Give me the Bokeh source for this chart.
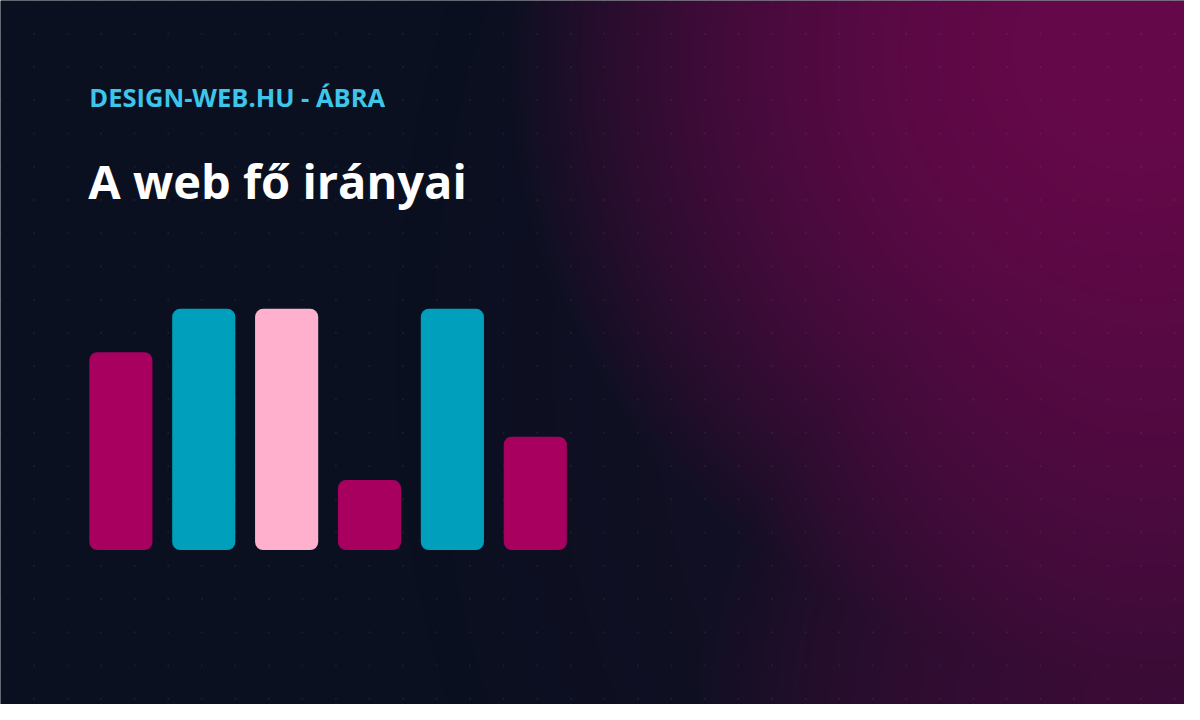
import numpy as np
from bokeh.plotting import figure
from bokeh.models import ColumnDataSource, Range1d, Label
from bokeh.embed import file_html
from bokeh.resources import INLINE

# data
bar_values = [82, 100, 100, 29, 100, 47]
bar_colors = ["#A8005F", "#009FBB", "#FFB0CD", "#A8005F", "#009FBB", "#A8005F"]
kicker_text = "DESIGN-WEB.HU - ÁBRA"
title_text = "A web fő irányai"

# layout in reference pixel coordinates (1200 x 720 design squeezed into the figure)
W, H = 1184, 704
REF_W, REF_H = 1200, 720
BAR_X0 = 122       # centre of first bar
PITCH = 84         # distance between bar centres
BAR_W = 64 / PITCH
BASE_Y = 562       # bar baseline
PX_PER_UNIT = 2.467

NAVY = np.array([10, 16, 32])
GLOW = np.array([102, 8, 74])

p = figure(
    width=W, height=H,
    x_range=Range1d(-BAR_X0 / PITCH, (REF_W - BAR_X0) / PITCH),
    y_range=Range1d(-(REF_H - BASE_Y) / PX_PER_UNIT, BASE_Y / PX_PER_UNIT),
    x_axis_type=None, y_axis_type=None,
    output_backend="svg", toolbar_location=None, tools="",
    min_border=0, outline_line_color=None,
    background_fill_color="#0A1020", border_fill_color="#0A1020",
)
p.grid.visible = False
p.extra_x_ranges = {"px": Range1d(0, REF_W)}
p.extra_y_ranges = {"py": Range1d(0, REF_H)}

# background: strong glow top right, weaker one bottom right, faint wide haze
xs = np.arange(0, REF_W, 2) + 1
ys = np.arange(0, REF_H, 2) + 1
X, Y = np.meshgrid(xs, ys)
d1 = np.sqrt((X - 1150) ** 2 + (Y - 50) ** 2)
a1 = np.clip(1 - (d1 / 640) ** 2, 0, 1)
d2 = np.sqrt((X - 1180) ** 2 + (Y - 760) ** 2)
a2 = 0.45 * np.clip(1 - (d2 / 480) ** 2, 0, 1)
d3 = np.sqrt((X - 1200) ** 2 + ((Y - 360) * 0.8) ** 2)
a3 = 0.22 * np.clip(1 - d3 / 800, 0, 1)
a = 1 - (1 - a1) * (1 - a2) * (1 - a3)
rgb = NAVY + a[..., None] * (GLOW - NAVY)
img = np.zeros(a.shape, dtype=np.uint32)
view = img.view(dtype=np.uint8).reshape(a.shape + (4,))
view[..., :3] = rgb.astype(np.uint8)
view[..., 3] = 255
img = np.ascontiguousarray(np.flipud(img))
p.image_rgba(image=[img], x=0, y=0, dw=REF_W, dh=REF_H, x_range_name="px", y_range_name="py")

# faint dot grid
gx, gy = np.meshgrid(np.arange(0, REF_W, 34), np.arange(0, REF_H, 34))
p.scatter(gx.ravel(), REF_H - gy.ravel(), size=2, marker="circle", color="white",
          alpha=0.07, line_color=None, x_range_name="px", y_range_name="py")

source = ColumnDataSource(dict(
    x=list(range(len(bar_values))),
    top=bar_values,
    color=bar_colors,
))
p.vbar(x="x", top="top", bottom=0, width=BAR_W, fill_color="color",
       line_color=None, border_radius=8, source=source)

p.add_layout(Label(x=90, y=REF_H - 98.5, text=kicker_text, x_range_name="px", y_range_name="py",
                   text_font="Open Sans", text_font_style="bold", text_font_size="25.5px",
                   text_color="#3EC6EA", text_baseline="alphabetic"))
p.add_layout(Label(x=89, y=REF_H - 185, text=title_text, x_range_name="px", y_range_name="py",
                   text_font="Open Sans", text_font_style="bold", text_font_size="47px",
                   text_color="#FFFFFF", text_baseline="alphabetic"))

open("out.html", "w").write(file_html(p, INLINE))
